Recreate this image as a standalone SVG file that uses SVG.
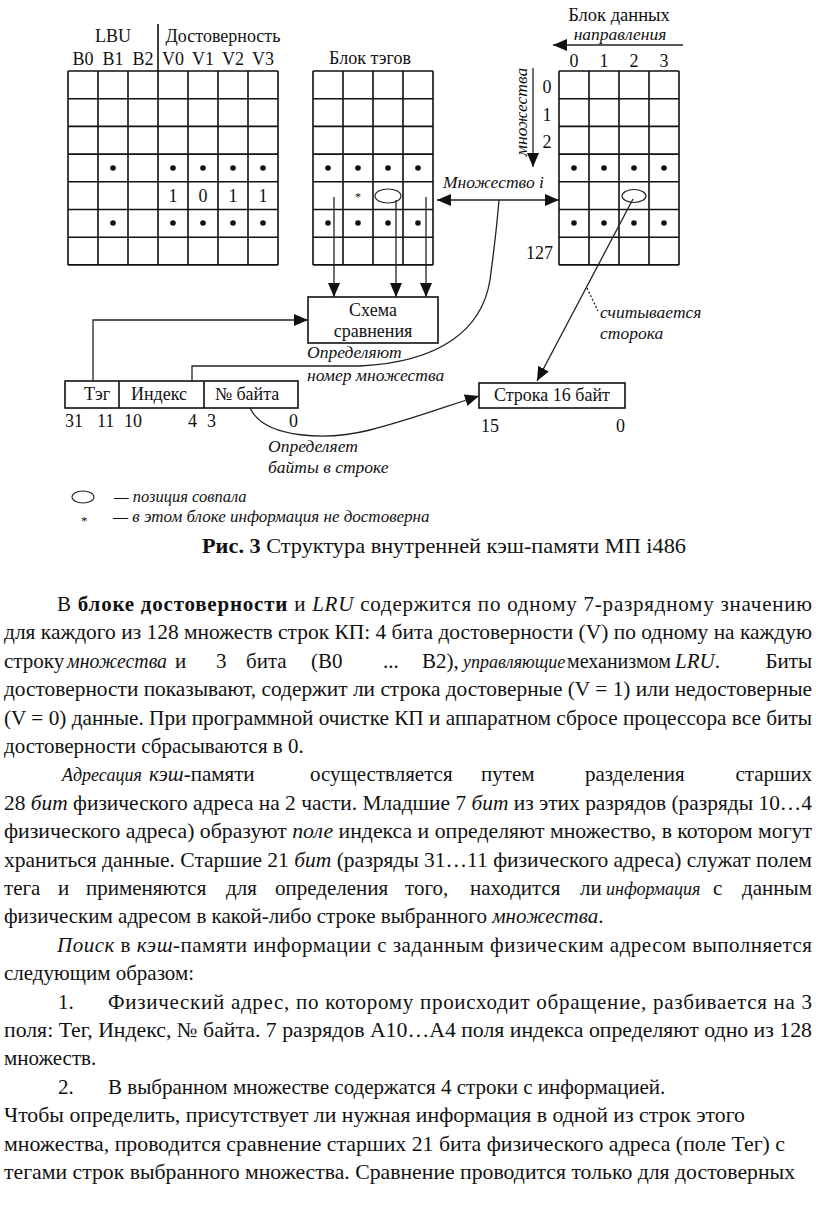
<svg xmlns="http://www.w3.org/2000/svg" width="816" height="1206" viewBox="0 0 816 1206">
<defs>
<style>
.g{fill:none;stroke:#111;stroke-width:1.6}
.t{font-family:"Liberation Serif","Times New Roman",serif;fill:#111}
.d{font-size:18px}
.l{font-size:17.5px;font-style:italic}
.i{font-style:italic}
.b{font-weight:bold}
.c{fill:none;stroke:#222;stroke-width:1.3}
.dot{fill:#111}
.body{font-size:21px}
.si{font-size:18px;font-style:italic}
</style>
<marker id="ah" markerUnits="userSpaceOnUse" markerWidth="14" markerHeight="12" refX="14" refY="6" orient="auto-start-reverse"><path d="M0,0 L14,6 L0,12 z" fill="#111"/></marker>
</defs>
<rect width="816" height="1206" fill="#fff"/>

<g id="lru-block">
<path class="g" d="M68,71H278M68,98.7H278M68,126.4H278M68,154.1H278M68,181.8H278M68,209.5H278M68,237.2H278M68,264.9H278M68,71V264.9M98,71V264.9M128,71V264.9M158,71V264.9M188,71V264.9M218,71V264.9M248,71V264.9M278,71V264.9"/>
<path class="g" d="M158,24V71" stroke-width="1.2"/>
<g class="t d" text-anchor="middle">
<text x="113" y="42">LBU</text>
<text x="223" y="42">Достоверность</text>
<text x="83" y="65">B0</text><text x="113" y="65">B1</text><text x="143" y="65">B2</text>
<text x="173" y="65">V0</text><text x="203" y="65">V1</text><text x="233" y="65">V2</text><text x="263" y="65">V3</text>
<text x="173" y="202">1</text><text x="203" y="202">0</text><text x="233" y="202">1</text><text x="263" y="202">1</text>
</g>
<g class="dot">
<circle cx="113" cy="168" r="2.8"/><circle cx="173" cy="168" r="2.8"/><circle cx="203" cy="168" r="2.8"/><circle cx="233" cy="168" r="2.8"/><circle cx="263" cy="168" r="2.8"/>
<circle cx="113" cy="223" r="2.8"/><circle cx="173" cy="223" r="2.8"/><circle cx="203" cy="223" r="2.8"/><circle cx="233" cy="223" r="2.8"/><circle cx="263" cy="223" r="2.8"/>
</g>
</g>

<g id="tag-block">
<path class="g" d="M313,71H433M313,98.7H433M313,126.4H433M313,154.1H433M313,181.8H433M313,209.5H433M313,237.2H433M313,264.9H433M313,71V264.9M343,71V264.9M373,71V264.9M403,71V264.9M433,71V264.9"/>
<text class="t d" x="370" y="64" text-anchor="middle">Блок тэгов</text>
<g class="dot">
<circle cx="328" cy="168" r="2.8"/><circle cx="358" cy="168" r="2.8"/><circle cx="388" cy="168" r="2.8"/><circle cx="418" cy="168" r="2.8"/>
<circle cx="328" cy="223" r="2.8"/><circle cx="358" cy="223" r="2.8"/><circle cx="388" cy="223" r="2.8"/><circle cx="418" cy="223" r="2.8"/>
</g>
<text class="t" x="358" y="201" font-size="12" text-anchor="middle">*</text>
<ellipse cx="388" cy="196" rx="13" ry="7" fill="none" stroke="#222" stroke-width="1.2"/>
</g>

<g id="data-block">
<path class="g" d="M559,71H679M559,98.7H679M559,126.4H679M559,154.1H679M559,181.8H679M559,209.5H679M559,237.2H679M559,264.9H679M559,71V264.9M589,71V264.9M619,71V264.9M649,71V264.9M679,71V264.9"/>
<g class="t d" text-anchor="middle">
<text x="619" y="21" font-size="18.5">Блок данных</text>
<text x="620" y="40" class="l" font-size="17">направления</text>
<text x="574" y="67">0</text><text x="604" y="67">1</text><text x="634" y="67">2</text><text x="664" y="67">3</text>
<text x="547" y="93">0</text><text x="547" y="121">1</text><text x="547" y="148">2</text>
<text x="553" y="259" text-anchor="end">127</text>
</g>
<text class="t l" text-anchor="middle" transform="translate(527,112) rotate(-90)">множества</text>
<g class="dot">
<circle cx="574" cy="168" r="2.8"/><circle cx="604" cy="168" r="2.8"/><circle cx="634" cy="168" r="2.8"/><circle cx="664" cy="168" r="2.8"/>
<circle cx="574" cy="223" r="2.8"/><circle cx="604" cy="223" r="2.8"/><circle cx="634" cy="223" r="2.8"/><circle cx="664" cy="223" r="2.8"/>
</g>
<ellipse cx="634" cy="196" rx="12" ry="6.5" fill="none" stroke="#222" stroke-width="1.2"/>
</g>

<g id="compare">
<rect x="308" y="297" width="130" height="46" fill="#fff" stroke="#111" stroke-width="1.6"/>
<text class="t d" x="373" y="316" text-anchor="middle">Схема</text>
<text class="t d" x="373" y="337" text-anchor="middle">сравнения</text>
</g>

<g id="address">
<rect x="65" y="381" width="233" height="27" fill="#fff" stroke="#111" stroke-width="1.6"/>
<path class="g" d="M119,381V408M204,381V408"/>
<g class="t d">
<text x="97" y="400" text-anchor="middle">Тэг</text>
<text x="159" y="400" text-anchor="middle">Индекс</text>
<text x="247" y="400" text-anchor="middle">№ байта</text>
<text x="65" y="427">31</text><text x="97" y="427">11</text><text x="124" y="427">10</text>
<text x="188" y="427">4</text><text x="207" y="427">3</text><text x="289" y="427">0</text>
</g>
</g>

<g id="line16">
<rect x="479" y="383" width="146" height="25" fill="#fff" stroke="#111" stroke-width="1.6"/>
<text class="t d" x="552" y="401" text-anchor="middle">Строка 16 байт</text>
<text class="t d" x="481" y="432">15</text>
<text class="t d" x="616" y="432">0</text>
</g>

<g id="labels" class="t l">
<text x="443" y="188">Множество i</text>
<text x="307" y="358">Определяют</text>
<text x="307" y="381">номер множества</text>
<text x="268" y="452">Определяет</text>
<text x="268" y="473">байты  в строке</text>
<text x="600" y="318">считывается</text>
<text x="600" y="339">сторока</text>
</g>

<g id="legend">
<ellipse cx="83" cy="497" rx="11" ry="6" fill="none" stroke="#222" stroke-width="1.1"/>
<text class="t i" font-size="16.5" x="114" y="502">— позиция совпала</text>
<text class="t" font-size="13" x="81" y="525">*</text>
<text class="t i" font-size="17" x="113" y="522">— в этом блоке информация не достоверна</text>
</g>

<g id="connectors">
<path class="c" d="M437,200H559" marker-start="url(#ah)" marker-end="url(#ah)" stroke="#111" stroke-width="1.5"/>
<path class="c" d="M533,68V167" marker-end="url(#ah)" stroke="#111" stroke-width="1.5"/>
<path class="c" d="M683,45H553" marker-end="url(#ah)" stroke="#111" stroke-width="1.5"/>
<path class="c" d="M334,197V297" marker-end="url(#ah)"/>
<path class="c" d="M396,200V297" marker-end="url(#ah)"/>
<path class="c" d="M426,197V297" marker-end="url(#ah)"/>
<path class="c" d="M93,381V320H308" marker-end="url(#ah)"/>
<path class="c" d="M192,381V366H360C440,362 482,330 490,280C494,250 497,225 499,200"/>
<path class="c" d="M250,408C265,440 330,440 370,430C410,420 450,405 479,396" marker-end="url(#ah)"/>
<path class="c" d="M633,199L537,381" marker-end="url(#ah)"/>
<path class="c" d="M587,288L598,311" stroke-dasharray="2,2" stroke-width="1"/>
</g>

<g id="caption" class="t" font-size="21">
<text x="202" y="553" textLength="484" lengthAdjust="spacingAndGlyphs"><tspan class="b">Рис. 3</tspan> Структура внутренней кэш-памяти МП i486</text>
</g>

<g id="body" class="t body">
<text x="57" y="611" textLength="755" lengthAdjust="spacing">В <tspan class="b">блоке  достоверности</tspan> и <tspan class="i">LRU</tspan> содержится  по  одному  7-разрядному  значению</text>
<text x="4" y="639.4" textLength="808" lengthAdjust="spacingAndGlyphs">для каждого из 128 множеств строк КП: 4 бита достоверности (V) по одному на каждую</text>
<text x="4" y="667.8">строку</text>
<text x="67" y="667.8" class="i" textLength="100" lengthAdjust="spacingAndGlyphs">множества</text>
<text x="175" y="667.8">и</text>
<text x="216" y="667.8">3</text>
<text x="246" y="667.8">бита</text>
<text x="311" y="667.8">(B0</text>
<text x="383" y="667.8">...</text>
<text x="422" y="667.8">B2),</text>
<text x="463" y="667.8" class="si">управляющие</text>
<text x="567" y="667.8" font-size="20">механизмом</text>
<text x="675" y="667.8"><tspan class="i">LRU</tspan>.</text>
<text x="812" y="667.8" text-anchor="end">Биты</text>
<text x="4" y="696.2" textLength="808" lengthAdjust="spacingAndGlyphs">достоверности показывают, содержит ли строка достоверные (V = 1) или недостоверные</text>
<text x="4" y="724.6" textLength="808" lengthAdjust="spacingAndGlyphs">(V = 0) данные. При программной очистке КП и аппаратном сбросе процессора все биты</text>
<text x="4" y="753">достоверности сбрасываются в 0.</text>
<text x="62" y="781.4" class="si">Адресация</text>
<text x="149" y="781.4"><tspan class="i">кэш</tspan>-памяти</text>
<text x="310" y="781.4">осуществляется</text>
<text x="481" y="781.4">путем</text>
<text x="585" y="781.4">разделения</text>
<text x="812" y="781.4" text-anchor="end">старших</text>
<text x="4" y="809.8" textLength="808" lengthAdjust="spacingAndGlyphs">28 <tspan class="i">бит</tspan> физического адреса на 2 части. Младшие 7 <tspan class="i">бит</tspan> из этих разрядов (разряды 10…4</text>
<text x="4" y="838.2" textLength="808" lengthAdjust="spacingAndGlyphs">физического адреса) образуют <tspan class="i">поле</tspan> индекса и определяют множество, в котором могут</text>
<text x="4" y="866.6" textLength="808" lengthAdjust="spacingAndGlyphs">храниться данные. Старшие 21 <tspan class="i">бит</tspan> (разряды 31…11 физического адреса) служат полем</text>
<text x="4" y="895">тега</text>
<text x="58" y="895">и</text>
<text x="86" y="895">применяются</text>
<text x="226" y="895">для</text>
<text x="275" y="895">определения</text>
<text x="405" y="895">того,</text>
<text x="470" y="895">находится</text>
<text x="580" y="895">ли</text>
<text x="606" y="895" class="si">информация</text>
<text x="713" y="895">с</text>
<text x="812" y="895" text-anchor="end">данным</text>
<text x="4" y="923.4">физическим адресом в какой-либо строке выбранного <tspan class="i">множества</tspan>.</text>
<text x="57" y="951.8" textLength="755" lengthAdjust="spacing"><tspan class="i">Поиск</tspan> в <tspan class="i">кэш</tspan>-памяти информации с заданным физическим адресом выполняется</text>
<text x="4" y="980.2">следующим образом:</text>
<text x="58" y="1008.6">1.</text>
<text x="108" y="1008.6" textLength="704" lengthAdjust="spacing">Физический адрес, по которому происходит обращение, разбивается на 3</text>
<text x="4" y="1037" textLength="808" lengthAdjust="spacingAndGlyphs">поля: Тег, Индекс, № байта. 7 разрядов A10…A4 поля индекса определяют одно из 128</text>
<text x="4" y="1065.4">множеств.</text>
<text x="58" y="1093.8">2.</text>
<text x="108" y="1093.8">В выбранном множестве содержатся 4 строки с информацией.</text>
<text x="4" y="1122.2" font-size="21.8" textLength="741" lengthAdjust="spacingAndGlyphs">Чтобы определить, присутствует ли нужная информация в одной из строк этого</text>
<text x="4" y="1150.6" font-size="21.8" textLength="781" lengthAdjust="spacingAndGlyphs">множества, проводится сравнение старших 21 бита физического адреса (поле Тег) с</text>
<text x="4" y="1179" font-size="21.8" textLength="791" lengthAdjust="spacingAndGlyphs">тегами строк выбранного множества. Сравнение проводится только для достоверных</text>
</g>
</svg>
